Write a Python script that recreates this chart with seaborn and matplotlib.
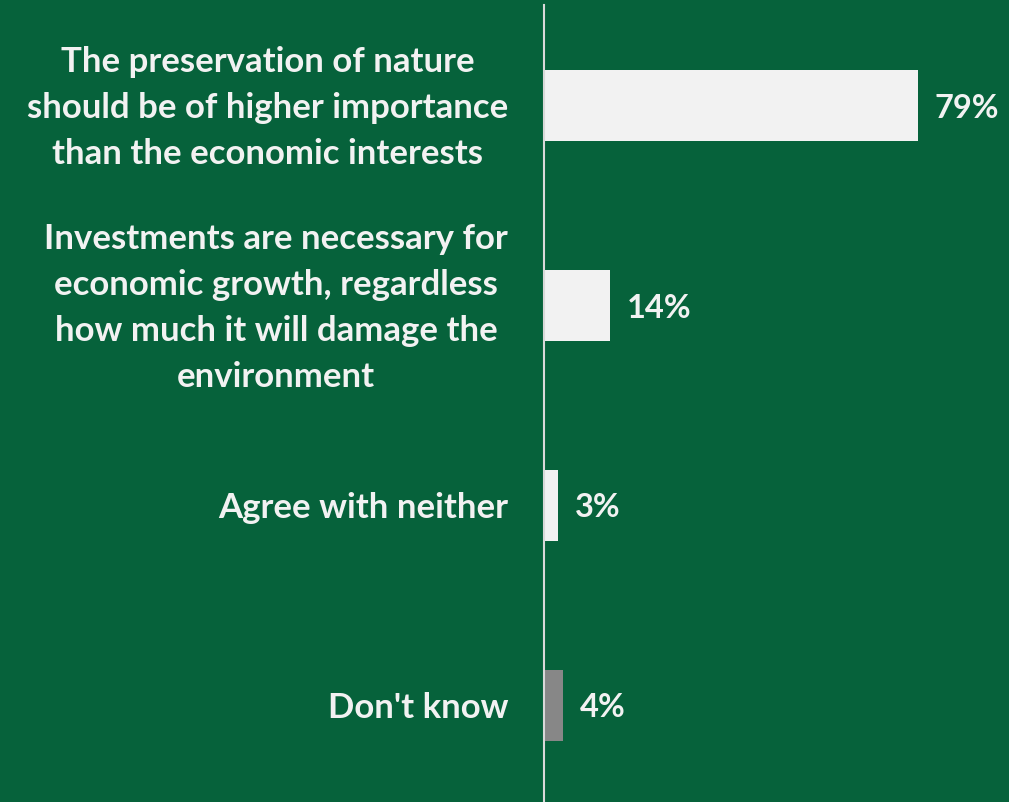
import matplotlib
matplotlib.use("Agg")
import pandas as pd
import seaborn as sns
import matplotlib.pyplot as plt

# data
labels = [
    "The preservation of nature\nshould be of higher importance\nthan the economic interests",
    "Investments are necessary for\neconomic growth, regardless\nhow much it will damage the\nenvironment",
    "Agree with neither",
    "Don't know",
]
values = [79, 14, 3, 4]
bar_colors = ["#F2F2F2", "#F2F2F2", "#F2F2F2", "#878787"]

bg = "#06623B"
txt = "#F2F2F2"

df = pd.DataFrame({"answer": labels, "share": values})

sns.set_style("white")
plt.rcParams["font.family"] = ["Lato", "DejaVu Sans"]
plt.rcParams["font.weight"] = "bold"

fig = plt.figure(figsize=(10.09, 8.03), dpi=100, facecolor=bg)
ax = fig.add_axes([544 / 1009, -3 / 803, 465 / 1009, 800 / 803])
ax.set_facecolor(bg)

sns.barplot(data=df, x="share", y="answer", hue="answer", palette=bar_colors,
            legend=False, width=0.355, ax=ax, saturation=1, linewidth=0)

ax.set_xlim(0, 465 / 4.734)
ax.set_ylim(3.5, -0.5)

# value labels
for i, v in enumerate(values):
    ax.text(v + 17 / 4.734, i + 0.01, f"{v}%", va="center", ha="left",
            color=txt, fontsize=23.5, fontweight="bold")

# category labels, centered lines, right edge near the axis
ax.set_yticks([])
ax.set_xticks([])
for i, lab in enumerate(labels):
    ax.text(-36 / 4.734, i + 0.01, lab, va="center", ha="right", multialignment="center",
            color=txt, fontsize=25, fontweight="bold", linespacing=1.55)

for s in ["top", "right", "bottom"]:
    ax.spines[s].set_visible(False)
ax.spines["left"].set_color("#D9D9D9")
ax.spines["left"].set_linewidth(1.5)
ax.set_xlabel("")
ax.set_ylabel("")

fig.savefig("out.png", dpi=100, facecolor=bg)
